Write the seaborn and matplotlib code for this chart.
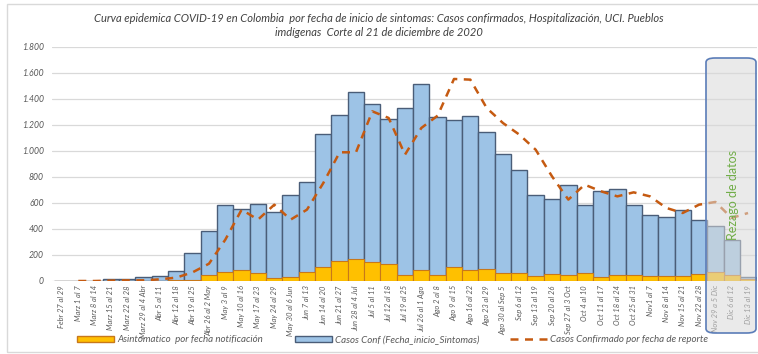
import numpy as np
import pandas as pd
import matplotlib
matplotlib.use("Agg")
import matplotlib.pyplot as plt
from matplotlib.patches import FancyBboxPatch, Rectangle, Patch
from matplotlib.lines import Line2D
import seaborn as sns

semanas = [
    "Febr 27 al 29", "Marz 1 al 7", "Marz 8 al 14", "Marz 15 al 21", "Marz 22 al 28",
    "Marz 29 al 4 Abr", "Abr 5 al 11", "Abr 12 al 18", "Abr 19 al 25", "Abr 26 al 2 May",
    "May 3 al 9", "May 10 al 16", "May 17 al 23", "May 24 al 29", "May 30 al 6 Jun",
    "Jun 7 al 13", "Jun 14 al 20", "Jun 21 al 27", "Jun 28 al 4 Jul", "Jul 5 al 11",
    "Jul 12 al 18", "Jul 19 al 25", "Jul 26 al 1 Ago", "Ago 2 al 8", "Ago 9 al 15",
    "Ago 16 al 22", "Ago 23 al 29", "Ago 30 al Sep 5", "Sep 6 al 12", "Sep 13 al 19",
    "Sep 20 al 26", "Sep 27 al 3 Oct", "Oct 4 al 10", "Oct 11 al 17", "Oct 18 al 24",
    "Oct 25 al 31", "Nov1 al 7", "Nov 8 al 14", "Nov 15 al 21", "Nov 22 al 28",
    "Nov 29 a 5 Dic", "Dic 6 al 12", "Dic 13 al 19",
]

casos_conf = [0, 1, 2, 18, 18, 31, 41, 80, 215, 382,
              582, 556, 592, 528, 662, 764, 1133, 1277, 1454, 1359,
              1246, 1331, 1518, 1259, 1236, 1272, 1144, 979, 851, 662,
              631, 741, 587, 690, 710, 587, 510, 495, 549, 472,
              426, 313, 31]

asintomaticos = [0, 0, 0, 0, 1, 2, 3, 5, 10, 46,
                 72, 85, 65, 23, 28, 67, 108, 154, 169, 149,
                 128, 49, 87, 46, 105, 87, 92, 62, 62, 41,
                 51, 49, 62, 28, 49, 49, 41, 41, 41, 54,
                 72, 46, 15]

casos_reporte = [np.nan, 0, 0, 3, 5, 5, 13, 26, 67, 133,
                 318, 549, 472, 587, 472, 549, 754, 990, 990, 1305,
                 1254, 972, 1177, 1272, 1554, 1549, 1331, 1215, 1126, 1010,
                 805, 626, 741, 690, 651, 682, 651, 562, 523, 587,
                 608, 485, 523]

y_ticks = [0, 200, 400, 600, 800, 1000, 1200, 1400, 1600, 1800]
y_tick_labels = ["0", "200", "400", "600", "800", "1.000", "1.200", "1.400", "1.600", "1.800"]

titulo = ("Curva epidemica COVID-19 en Colombia  por fecha de inicio de sintomas: Casos confirmados, Hospitalización, UCI. Pueblos\n"
          "imdígenas  Corte al 21 de diciembre de 2020")
etiqueta_asint = "Asintomatico  por fecha notificación"
etiqueta_conf = "Casos Conf (Fecha_inicio_Sintomas)"
etiqueta_rep = "Casos Confirmado por fecha de reporte"
texto_rezago = "Rezago de datos"

df = pd.DataFrame({
    "semana": semanas,
    "conf": casos_conf,
    "asint": asintomaticos,
    "reporte": casos_reporte,
    "pos": np.arange(len(semanas)),
})

sns.set_theme(style="white")
plt.rcParams["font.family"] = ["Lato", "DejaVu Sans"]

AZUL = "#9DC3E6"
AZUL_BORDE = "#4A5D78"
AMARILLO = "#FFC000"
AMARILLO_BORDE = "#C8781A"
NARANJA = "#C55A11"
GRIS_TXT = "#595959"
DASH = (3.2, 2.6)

fig = plt.figure(figsize=(7.58, 3.54), dpi=100)
ax = fig.add_axes([52 / 758, 1 - 281 / 354, 705 / 758, 234 / 354])

sns.barplot(data=df, x="semana", y="conf", color=AZUL, saturation=1, width=1.0,
            edgecolor=AZUL_BORDE, linewidth=1.0, ax=ax, zorder=2)
sns.barplot(data=df, x="semana", y="asint", color=AMARILLO, saturation=1, width=1.0,
            edgecolor=AMARILLO_BORDE, linewidth=0.8, ax=ax, zorder=3)
sns.lineplot(data=df, x="pos", y="reporte", color=NARANJA, linewidth=1.8,
             ax=ax, zorder=4)
ax.lines[-1].set_dashes(DASH)

ax.set_xlim(-0.61, len(semanas) - 1 + 0.55)
ax.set_ylim(0, 1800)
ax.set_yticks(y_ticks)
ax.set_yticklabels(y_tick_labels, fontsize=6.2, style="italic", color=GRIS_TXT)
ax.set_xticks(np.arange(len(semanas)))
ax.set_xticklabels(semanas, rotation=90, fontsize=5.4, style="italic", color=GRIS_TXT,
                   va="top", ha="center")
ax.tick_params(axis="x", length=0, pad=3)
ax.tick_params(axis="y", length=0, pad=6)
ax.set_xlabel("")
ax.set_ylabel("")
ax.yaxis.grid(True, color="#D9D9D9", linewidth=0.9, zorder=0)
ax.set_axisbelow(True)
for s in ax.spines.values():
    s.set_visible(False)

fig.text(0.5, 0.929, titulo, ha="center", va="center", fontsize=8.0, style="italic",
         color="#404040", linespacing=1.35)

# outer frame
fig.patches.append(Rectangle((7 / 758, 2 / 354), 1.0, 1 - 6 / 354, transform=fig.transFigure,
                             fill=False, edgecolor="#D9D9D9", linewidth=1.0))

# shaded box for the weeks with delayed data
caja = FancyBboxPatch((706 / 758, 1 - 333 / 354), 50 / 758, 275 / 354,
                      boxstyle="round,pad=0,rounding_size=0.012",
                      transform=fig.transFigure, facecolor="#D9D9D9", alpha=0.55,
                      edgecolor="none", zorder=10)
borde = FancyBboxPatch((706 / 758, 1 - 333 / 354), 50 / 758, 275 / 354,
                       boxstyle="round,pad=0,rounding_size=0.012",
                       transform=fig.transFigure, fill=False,
                       edgecolor="#5B7DB8", linewidth=1.2, zorder=11)
fig.patches.extend([caja, borde])
fig.text(733 / 758, 1 - 195 / 354, texto_rezago, rotation=90, ha="center", va="center",
         fontsize=9, color="#70AD47", zorder=12)

# legend: three entries placed along the bottom
entradas = [
    (Patch(facecolor=AMARILLO, edgecolor=AMARILLO_BORDE, linewidth=1.0), etiqueta_asint, 77),
    (Patch(facecolor=AZUL, edgecolor=AZUL_BORDE, linewidth=1.0), etiqueta_conf, 295),
    (Line2D([0], [0], color=NARANJA, linewidth=1.8, dashes=DASH), etiqueta_rep, 510),
]
for h, lab, x0 in entradas:
    leg = fig.legend([h], [lab], loc="center left", bbox_to_anchor=(x0 / 758, 1 - 340 / 354),
                     frameon=False, borderpad=0, borderaxespad=0, handlelength=3.8,
                     handleheight=0.6, handletextpad=0.35,
                     prop={"size": 7.0, "style": "italic"})
    for t in leg.get_texts():
        t.set_color(GRIS_TXT)

fig.savefig("out.png", dpi=100, facecolor="white")
